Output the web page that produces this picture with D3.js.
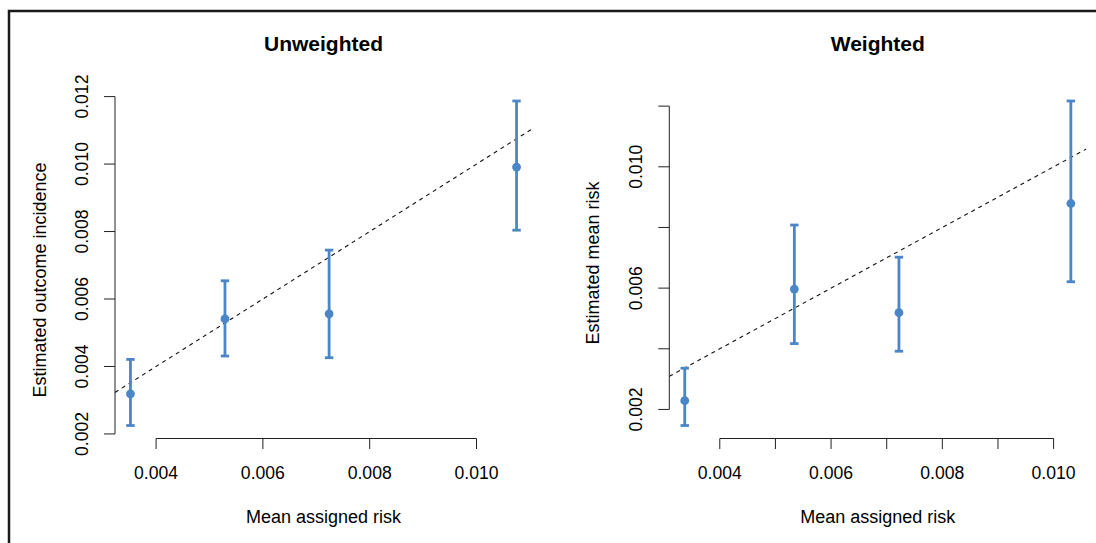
<!DOCTYPE html>
<html>
<head>
<meta charset="utf-8">
<script src="https://cdn.jsdelivr.net/npm/d3@7"></script>
<style>
  body { margin: 0; background: #fff; }
  svg { display: block; font-family: "Liberation Sans", Arial, sans-serif; }
</style>
</head>
<body>
<svg id="chart" width="1096" height="543"></svg>
<script>
// Unweighted panel
const unwX  = [0.00352, 0.00529, 0.00724, 0.01075];
const unwY  = [0.00319, 0.00541, 0.00556, 0.00991];
const unwLo = [0.00225, 0.00431, 0.00426, 0.00804];
const unwHi = [0.00421, 0.00654, 0.00745, 0.01187];

// Weighted panel
const wX  = [0.00337, 0.00534, 0.00722, 0.01031];
const wY  = [0.00229, 0.00597, 0.00519, 0.00879];
const wLo = [0.00147, 0.00417, 0.00392, 0.00621];
const wHi = [0.00336, 0.00808, 0.00702, 0.01217];

const unwXTicks = [0.004, 0.006, 0.008, 0.010];
const unwYTicks = [0.002, 0.004, 0.006, 0.008, 0.010, 0.012];
const wXTicks = [0.004, 0.005, 0.006, 0.007, 0.008, 0.009, 0.010];
const wXLabels = [0.004, 0.006, 0.008, 0.010];
const wYTicks = [0.002, 0.004, 0.006, 0.008, 0.010, 0.012];
const wYLabels = [0.002, 0.006, 0.010];

const blue = "#4a86c8";
const fmt = d3.format(".3f");
const svg = d3.select("#chart");

// outer frame (runs off the right and bottom edges)
svg.append("rect")
    .attr("x", 9).attr("y", 11)
    .attr("width", 1200).attr("height", 700)
    .attr("fill", "none")
    .attr("stroke", "#1a1a1a")
    .attr("stroke-width", 2.5);

// R style: pad the data range by 4%
function padded(lo, hi) {
    const ext = [d3.min(lo), d3.max(hi)];
    const p = (ext[1] - ext[0]) * 0.04;
    return [ext[0] - p, ext[1] + p];
}

function drawPanel(cfg) {
    const w = 417, h = 350.5;
    const g = svg.append("g").attr("transform", `translate(${cfg.left},88)`);

    const xd = padded(cfg.x, cfg.x);
    const x = d3.scaleLinear().domain(xd).range([0, w]);
    const y = d3.scaleLinear().domain(padded(cfg.lo, cfg.hi)).range([h, 0]);

    const clipId = "clip" + cfg.id;
    g.append("clipPath").attr("id", clipId)
        .append("rect").attr("width", w).attr("height", h);

    // title
    g.append("text")
        .attr("x", w / 2).attr("y", -37.5)
        .attr("text-anchor", "middle")
        .style("font-size", "21px")
        .style("font-weight", "bold")
        .text(cfg.title);

    // x axis
    const xa = g.append("g").attr("transform", `translate(0,${h})`);
    xa.append("line")
        .attr("x1", x(cfg.xTicks[0])).attr("x2", x(cfg.xTicks[cfg.xTicks.length - 1]))
        .attr("stroke", "#222");
    xa.selectAll(".tick").data(cfg.xTicks).enter().append("line")
        .attr("x1", d => x(d)).attr("x2", d => x(d))
        .attr("y1", 0).attr("y2", 10.5)
        .attr("stroke", "#222");
    xa.selectAll(".lab").data(cfg.xLabels).enter().append("text")
        .attr("x", d => x(d)).attr("y", 40.5)
        .attr("text-anchor", "middle")
        .style("font-size", "17.6px")
        .text(fmt);
    xa.append("text")
        .attr("x", w / 2).attr("y", 84)
        .attr("text-anchor", "middle")
        .style("font-size", "18px")
        .text("Mean assigned risk");

    // y axis
    const ya = g.append("g");
    ya.append("line")
        .attr("y1", y(cfg.yTicks[0])).attr("y2", y(cfg.yTicks[cfg.yTicks.length - 1]))
        .attr("stroke", "#222");
    ya.selectAll(".tick").data(cfg.yTicks).enter().append("line")
        .attr("y1", d => y(d)).attr("y2", d => y(d))
        .attr("x1", 0).attr("x2", -11)
        .attr("stroke", "#222");
    ya.selectAll(".lab").data(cfg.yLabels).enter().append("text")
        .attr("transform", d => `translate(-27,${y(d)}) rotate(-90)`)
        .attr("text-anchor", "middle")
        .style("font-size", "17.6px")
        .text(fmt);
    ya.append("text")
        .attr("transform", `translate(${-cfg.ylabOff},${cfg.ylabY}) rotate(-90)`)
        .attr("text-anchor", "middle")
        .style("font-size", "18px")
        .text(cfg.ylab);

    // identity reference line, clipped to plot region
    g.append("line")
        .attr("clip-path", `url(#${clipId})`)
        .attr("x1", x(xd[0])).attr("y1", y(xd[0]))
        .attr("x2", x(xd[1])).attr("y2", y(xd[1]))
        .attr("stroke", "#111")
        .attr("stroke-width", 1.1)
        .attr("stroke-dasharray", "4,4");

    const pts = cfg.x.map((v, i) => ({x: v, y: cfg.y[i], lo: cfg.lo[i], hi: cfg.hi[i]}));
    const bars = g.append("g").selectAll("g").data(pts).enter().append("g")
        .attr("stroke", blue).attr("stroke-width", 2.8);
    bars.append("line")
        .attr("x1", d => x(d.x)).attr("x2", d => x(d.x))
        .attr("y1", d => y(d.lo)).attr("y2", d => y(d.hi));
    bars.append("line")
        .attr("x1", d => x(d.x) - 4.2).attr("x2", d => x(d.x) + 4.2)
        .attr("y1", d => y(d.lo)).attr("y2", d => y(d.lo));
    bars.append("line")
        .attr("x1", d => x(d.x) - 4.2).attr("x2", d => x(d.x) + 4.2)
        .attr("y1", d => y(d.hi)).attr("y2", d => y(d.hi));
    bars.append("circle")
        .attr("cx", d => x(d.x)).attr("cy", d => y(d.y))
        .attr("r", 4.4)
        .attr("stroke", "none")
        .attr("fill", blue);
}

drawPanel({
    id: "u", left: 115, title: "Unweighted",
    x: unwX, y: unwY, lo: unwLo, hi: unwHi,
    xTicks: unwXTicks, xLabels: unwXTicks,
    yTicks: unwYTicks, yLabels: unwYTicks,
    ylab: "Estimated outcome incidence", ylabOff: 68.6, ylabY: 192
});

drawPanel({
    id: "w", left: 669.3, title: "Weighted",
    x: wX, y: wY, lo: wLo, hi: wHi,
    xTicks: wXTicks, xLabels: wXLabels,
    yTicks: wYTicks, yLabels: wYLabels,
    ylab: "Estimated mean risk", ylabOff: 70.3, ylabY: 175
});
</script>
</body>
</html>
